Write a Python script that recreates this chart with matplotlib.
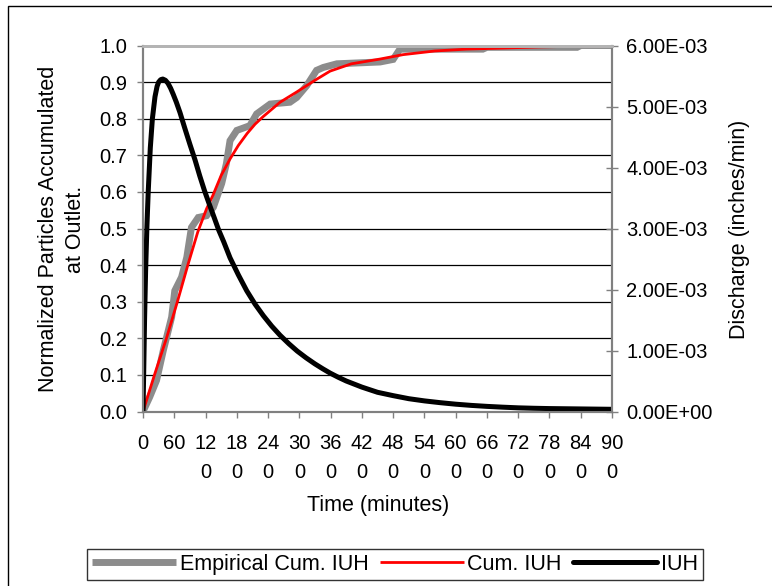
import numpy as np
import matplotlib
matplotlib.use("Agg")
import matplotlib.pyplot as plt
from matplotlib.patches import Rectangle

plt.rcParams["font.family"] = ["Liberation Sans", "DejaVu Sans"]
plt.rcParams["font.size"] = 14.5
title_size = 15.5

# Empirical cumulative IUH (step-like)
emp_t = [0, 13, 26, 39, 55, 61, 74, 84, 93, 106, 122, 135, 151, 160, 167, 180,
         205, 218, 244, 282, 295, 314, 333, 346, 372, 455, 480, 493, 652, 660,
         833, 840, 900]
emp_frac = [0, 0.04, 0.085, 0.167, 0.258, 0.33, 0.367, 0.421, 0.503, 0.53,
            0.535, 0.558, 0.623, 0.677, 0.74, 0.768, 0.781, 0.813, 0.84, 0.845,
            0.858, 0.89, 0.932, 0.94, 0.95, 0.955, 0.962, 0.99, 0.99, 0.995,
            0.995, 1.0, 1.0]

# Cumulative IUH
cum_t = [0, 22, 45, 66, 86, 105, 122, 134, 150, 167, 183, 200, 215, 230, 263,
         295, 330, 359, 400, 455, 499, 560, 620, 691, 760, 830, 900]
cum_frac = [0, 0.1, 0.2, 0.3, 0.4, 0.49, 0.554, 0.59, 0.645, 0.69, 0.727, 0.76,
            0.785, 0.805, 0.845, 0.873, 0.905, 0.93, 0.95, 0.963, 0.975, 0.985,
            0.99, 0.993, 0.996, 0.998, 0.999]

# IUH discharge (inches/min)
iuh_t = [0, 1.5, 3, 5, 7.5, 10, 14, 18, 23, 27, 30, 34, 38, 43, 48, 53, 58, 64,
         71, 80, 90, 100, 109, 118, 128, 137, 145, 155, 167, 183, 199, 215, 231,
         247, 263, 280, 296, 313, 330, 345, 359, 375, 390, 405, 420, 450, 480,
         510, 540, 570, 600, 630, 660, 690, 720, 750, 780, 840, 900]
iuh_q = [0, 0.72e-3, 1.5e-3, 2.3e-3, 3.03e-3, 3.6e-3, 4.32e-3, 4.8e-3, 5.16e-3,
         5.33e-3, 5.4e-3, 5.44e-3, 5.45e-3, 5.43e-3, 5.38e-3, 5.3e-3, 5.2e-3,
         5.07e-3, 4.9e-3, 4.65e-3, 4.38e-3, 4.12e-3, 3.86e-3, 3.62e-3, 3.38e-3,
         3.17e-3, 2.98e-3, 2.78e-3, 2.52e-3, 2.24e-3, 1.98e-3, 1.76e-3, 1.57e-3,
         1.40e-3, 1.25e-3, 1.11e-3, 0.99e-3, 0.88e-3, 0.78e-3, 0.70e-3, 0.63e-3,
         0.56e-3, 0.50e-3, 0.45e-3, 0.40e-3, 0.315e-3, 0.26e-3, 0.21e-3,
         0.174e-3, 0.145e-3, 0.12e-3, 0.10e-3, 0.084e-3, 0.071e-3, 0.06e-3,
         0.053e-3, 0.048e-3, 0.042e-3, 0.036e-3]

x_ticks = list(range(0, 901, 60))
x_labels = [str(v) if len(str(v)) <= 2 else str(v)[:2] + "\n" + str(v)[2:]
            for v in x_ticks]

fig = plt.figure(figsize=(7.72, 5.86), dpi=100)
ax = fig.add_axes([143 / 772, 1 - 411.5 / 586, 469 / 772, 366 / 586])
ax2 = ax.twinx()

l1, = ax.plot(emp_t, emp_frac, color="#8c8c8c", lw=5, solid_joinstyle="miter",
              solid_capstyle="butt", label="Empirical Cum. IUH")
l2, = ax.plot(cum_t, cum_frac, color="red", lw=2, solid_capstyle="butt",
              label="Cum. IUH")
l3, = ax2.plot(iuh_t, iuh_q, color="black", lw=3.6, solid_joinstyle="round",
               solid_capstyle="round", label="IUH")

ax.set_xlim(0, 900)
ax.set_ylim(0, 1.0)
ax2.set_ylim(0, 6e-3)
ax.set_xticks(x_ticks)
ax.set_xticklabels(x_labels)
for lbl in ax.get_xticklabels():
    lbl.set_linespacing(1.65)
ax.set_yticks(np.arange(0, 1.01, 0.1))
ax.set_yticklabels([f"{v:.1f}" for v in np.arange(0, 1.01, 0.1)])
ax2.set_yticks(np.arange(0, 6.01e-3, 1e-3))
ax2.set_yticklabels([f"{v:.2f}E-03" if v > 0 else "0.00E+00"
                     for v in np.arange(0, 6.01, 1)])

for y in np.arange(0.1, 0.95, 0.1):
    ax.axhline(y, color="black", lw=0.9, zorder=0.5)

ax.tick_params(axis="x", direction="out", length=4.3, width=1, color="#808080", pad=12)
ax.tick_params(axis="y", direction="out", length=4.3, width=1, color="#808080", pad=7)
ax2.tick_params(axis="y", direction="inout", length=8.6, width=1, color="#808080", pad=6)

for a in (ax, ax2):
    a.spines["left"].set_color("#808080")
    a.spines["right"].set_color("#808080")
    a.spines["bottom"].set_color("#808080")
    a.spines["top"].set_color("#b4b4b4")
    for s in a.spines.values():
        s.set_linewidth(1.5)
    a.spines["top"].set_linewidth(2)

fig.text(378 / 772, 1 - 506 / 586, "Time (minutes)", ha="center", va="center",
         fontsize=title_size)
fig.text(62 / 772, 1 - 229 / 586, "Normalized Particles Accumulated\nat Outlet.",
         rotation=90, ha="center", va="center", multialignment="center",
         linespacing=1.4, fontsize=title_size)
fig.text(740 / 772, 1 - 229 / 586, "Discharge (inches/min)", rotation=90,
         ha="center", va="center", fontsize=title_size)

leg = fig.legend(handles=[l1, l2, l3], loc="center", ncol=3,
                 bbox_to_anchor=(395 / 772, 1 - 564.5 / 586), frameon=True,
                 fancybox=False, handlelength=3.9, handletextpad=0.15,
                 columnspacing=0.55, borderpad=0.25, borderaxespad=0,
                 fontsize=title_size)
leg.get_frame().set_edgecolor("black")
leg.get_frame().set_linewidth(1)

fig.patches.append(Rectangle((8 / 772, -0.1), 1.0, 1 - 6 / 586 + 0.1,
                             transform=fig.transFigure, fill=False,
                             edgecolor="black", lw=1))

fig.savefig("out.png", dpi=100)
